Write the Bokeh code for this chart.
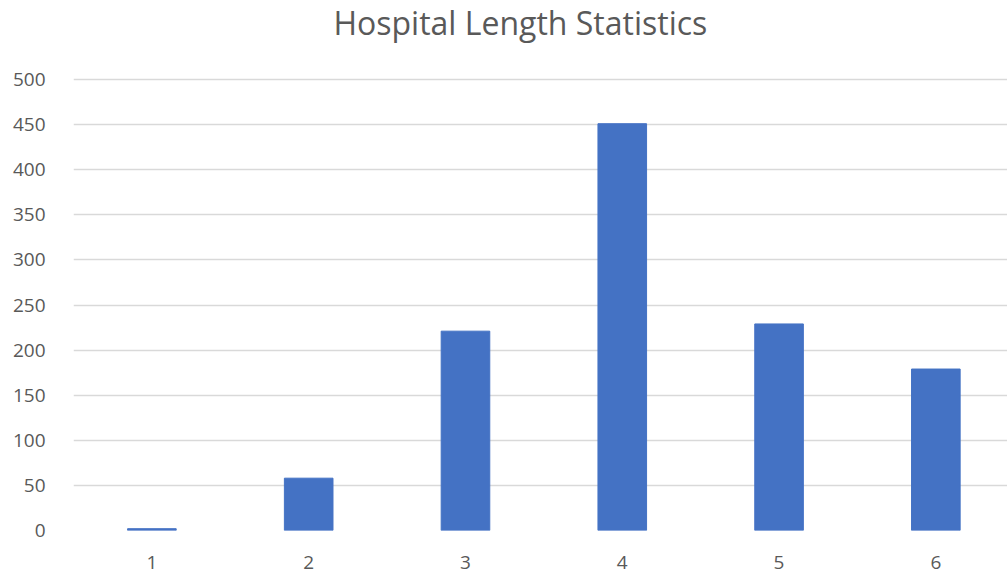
from bokeh.plotting import figure
from bokeh.models import Range1d, FixedTicker, Label
from bokeh.embed import file_html
from bokeh.resources import INLINE

# Hospital stay length (days) and number of patients
categories = [1, 2, 3, 4, 5, 6]
counts = [2, 58, 221, 451, 229, 179]
y_ticks = [0, 50, 100, 150, 200, 250, 300, 350, 400, 450, 500]
title_text = "Hospital Length Statistics"

BAR_COLOR = "#4472C4"
TEXT_COLOR = "#595959"
FONT = "Open Sans"

# the frame reaches the top of the canvas so the title can sit inside it,
# above the last gridline at 500
p = figure(
    width=1007, height=573,
    x_range=Range1d(0.5, 6.457), y_range=Range1d(0, 587.6),
    output_backend="svg", toolbar_location=None,
    min_border_left=73, min_border_right=0,
    min_border_top=0, min_border_bottom=43,
)

p.vbar(x=categories, top=counts, width=0.31, color=BAR_COLOR)

p.add_layout(Label(
    x=3.35, y=563, text=title_text,
    text_font=FONT, text_font_size="32px", text_color=TEXT_COLOR,
    text_align="center", text_baseline="middle",
))

p.outline_line_color = None
p.background_fill_color = "white"
p.border_fill_color = "white"

p.xgrid.grid_line_color = None
p.ygrid.grid_line_color = "#D9D9D9"
p.ygrid.grid_line_width = 1.3
p.ygrid.ticker = FixedTicker(ticks=y_ticks)

for ax in (p.xaxis, p.yaxis):
    ax.axis_line_color = None
    ax.major_tick_line_color = None
    ax.minor_tick_line_color = None
    ax.major_label_text_font = FONT
    ax.major_label_text_font_size = "19px"
    ax.major_label_text_color = TEXT_COLOR

p.xaxis.ticker = FixedTicker(ticks=categories)
p.yaxis.ticker = FixedTicker(ticks=y_ticks)
p.xaxis.major_label_standoff = 19
p.yaxis.major_label_standoff = 22

open("out.html", "w").write(file_html(p, INLINE))
